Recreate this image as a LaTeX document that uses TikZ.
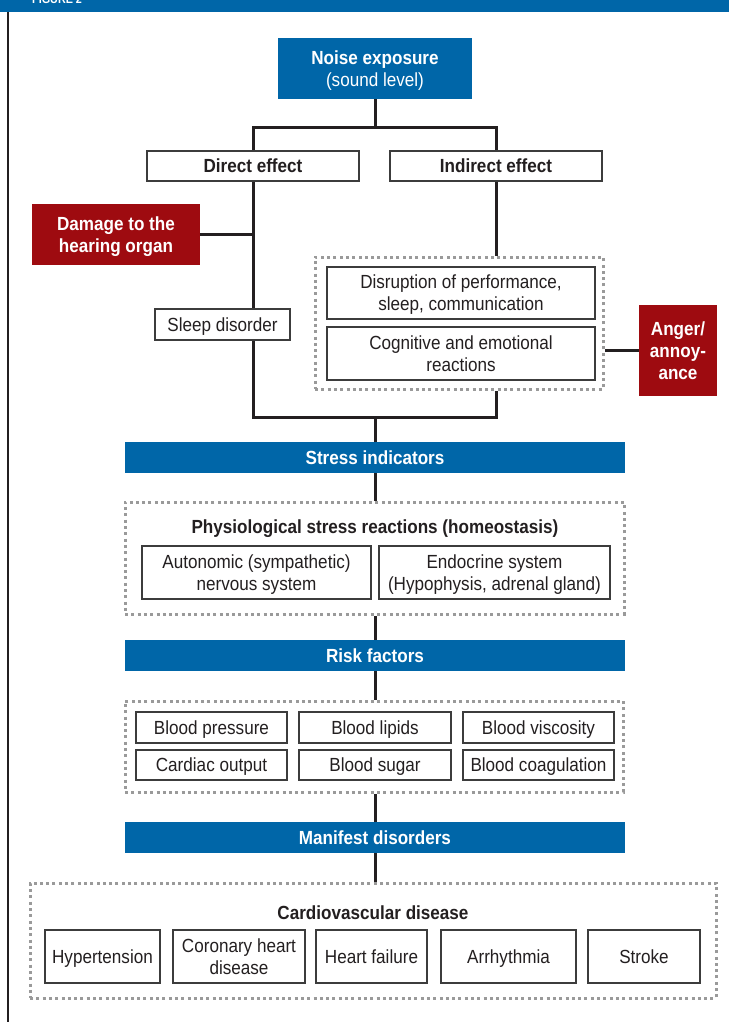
\documentclass[tikz,border=0pt]{standalone}
\usepackage{fontspec}
\setmainfont[FakeStretch=0.9]{Liberation Sans}
\definecolor{nblue}{HTML}{0066A8}
\definecolor{nred}{HTML}{9E0B10}
\definecolor{dotgray}{HTML}{9A9A9A}
\definecolor{boxgray}{HTML}{3C3C3C}
\definecolor{linedark}{HTML}{231F20}
\newcommand{\fs}{\fontsize{19}{22}\selectfont}

\begin{document}
\begin{tikzpicture}[x=1pt,y=-1pt,
  every node/.style={inner sep=0pt,align=center,font=\fs,text=linedark,text depth=0pt},
  bluebox/.style={fill=nblue,text=white,font=\fs\bfseries},
  redbox/.style={fill=nred,text=white,font=\fs\bfseries},
  plainbox/.style={draw=boxgray,line width=1.1pt,fill=white},
  dotbox/.style={draw=dotgray,line width=3pt,dash pattern=on 3pt off 3.3pt},
  link/.style={draw=linedark,line width=3pt}]
  \useasboundingbox (0,0) rectangle (729,1022);
  % header strip, cut at the top edge
  \begin{scope}
    \clip (0,0) rectangle (729,1022);
    \fill[nblue] (0,0) rectangle (729,12);
    \node (figlabel) at (32,4) [anchor=base west,text=white,font=\fontsize{12}{14}\selectfont\bfseries] {FIGURE 2};
  \end{scope}
  \draw[linedark,line width=2pt] (8,12) -- (8,1022);

  \node (noise) at (375,68.5) [bluebox,minimum width=194pt,minimum height=61pt] {Noise exposure\\{\mdseries (sound level)}};
  \node (direct) at (253,166) [plainbox,font=\fs\bfseries,minimum width=212pt,minimum height=30pt] {Direct effect};
  \node (indirect) at (496,166) [plainbox,font=\fs\bfseries,minimum width=212pt,minimum height=30pt] {Indirect effect};
  \node (damage) at (116,234.5) [redbox,minimum width=168pt,minimum height=61pt] {Damage to the\\hearing organ};
  \node (indirbox) at (459,323) [dotbox,minimum width=288pt,minimum height=132pt] {};
  \node (disrupt) at (461,293) [plainbox,minimum width=268pt,minimum height=52pt] {Disruption of performance,\\sleep, communication};
  \node (cognit) at (461,353.5) [plainbox,minimum width=268pt,minimum height=53pt] {Cognitive and emotional\\reactions};
  \node (anger) at (678,350.5) [redbox,minimum width=78pt,minimum height=91pt] {Anger/\\annoy-\\ance};

  \node (stress) at (375,457.5) [bluebox,minimum width=500pt,minimum height=31pt] {Stress indicators};
  \node (physio) at (374.5,558) [dotbox,minimum width=499pt,minimum height=112pt] {};
  \node (physiotitle) at (375,527) [font=\fs\bfseries] {Physiological stress reactions (homeostasis)};
  \node (autonom) at (256.5,572.5) [plainbox,minimum width=229pt,minimum height=53pt] {Autonomic (sympathetic)\\nervous system};
  \node (endocr) at (494.5,572.5) [plainbox,minimum width=231pt,minimum height=53pt] {Endocrine system\\(Hypophysis, adrenal gland)};

  \node (risk) at (375,655.5) [bluebox,minimum width=500pt,minimum height=31pt] {Risk factors};
  \node (riskbox) at (374,746.5) [dotbox,minimum width=498pt,minimum height=91pt] {};
  \node (bpress) at (211.5,727.5) [plainbox,minimum width=151pt,minimum height=31pt] {Blood pressure};
  \node (blipid) at (375,727.5) [plainbox,minimum width=152pt,minimum height=31pt] {Blood lipids};
  \node (bvisc) at (538.5,727.5) [plainbox,minimum width=151pt,minimum height=31pt] {Blood viscosity};
  \node (cardout) at (211.5,765) [plainbox,minimum width=151pt,minimum height=30pt] {Cardiac output};
  \node (bsugar) at (375,765) [plainbox,minimum width=152pt,minimum height=30pt] {Blood sugar};
  \node (bcoag) at (538.5,765) [plainbox,minimum width=151pt,minimum height=30pt] {Blood coagulation};

  \node (manifest) at (375,837.5) [bluebox,minimum width=500pt,minimum height=31pt] {Manifest disorders};
  \node (cvd) at (373,940.5) [dotbox,minimum width=686pt,minimum height=115pt] {};
  \node (cvdtitle) at (373,913) [font=\fs\bfseries] {Cardiovascular disease};
  \node (hypert) at (102.5,956.5) [plainbox,minimum width=115pt,minimum height=53pt] {Hypertension};
  \node (coronary) at (239,956.5) [plainbox,minimum width=132pt,minimum height=53pt] {Coronary heart\\disease};
  \node (hfail) at (371.5,956.5) [plainbox,minimum width=111pt,minimum height=53pt] {Heart failure};
  \node (arrhyth) at (508.5,956.5) [plainbox,minimum width=135pt,minimum height=53pt] {Arrhythmia};
  \node (stroke) at (644,956.5) [plainbox,minimum width=112pt,minimum height=53pt] {Stroke};

  \coordinate (split) at (375,128);
  \coordinate (merge) at (375,417);
  \draw[link] (noise.south) -- (split);
  \draw[link] (direct.north) |- (split) -| (indirect.north);
  \draw[link] (direct.south) |- (merge) -| (indirect.south |- indirbox.south);
  \draw[link] (indirect.south) -- (indirect.south |- indirbox.north);
  \draw[link] (damage.east) -- (damage.east -| direct.south);
  \draw[link] (anger.west) -- (anger.west -| indirbox.east);
  \draw[link] (merge) -- (stress.north);
  \draw[link] (stress.south) -- (stress.south |- physio.north);
  \draw[link] (risk.north) -- (risk.north |- physio.south);
  \draw[link] (risk.south) -- (risk.south |- riskbox.north);
  \draw[link] (manifest.north) -- (manifest.north |- riskbox.south);
  \draw[link] (manifest.south) -- (manifest.south |- cvd.north);

  % drawn last so that it sits over the direct line
  \node (sleep) at (222.5,324.5) [plainbox,minimum width=135pt,minimum height=31pt] {Sleep disorder};
\end{tikzpicture}
\end{document}
